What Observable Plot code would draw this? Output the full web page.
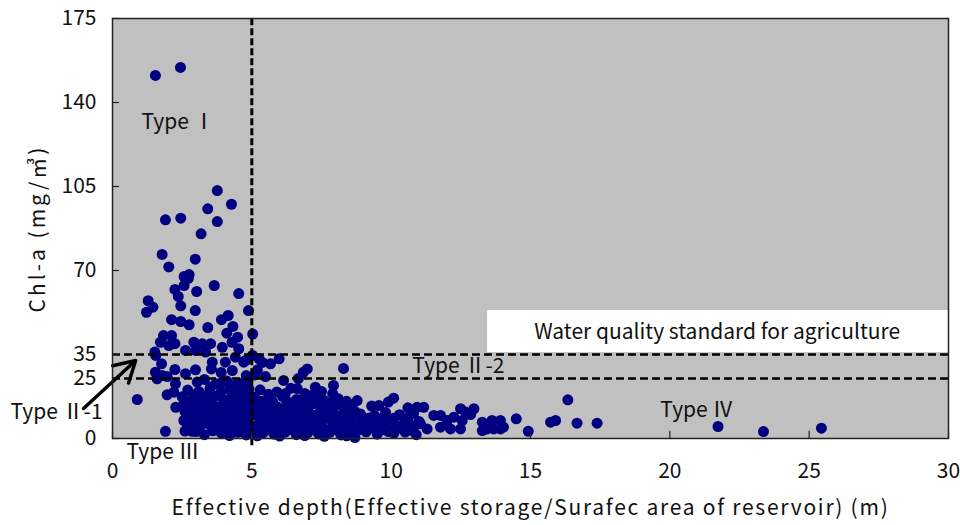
<!DOCTYPE html>
<html>
<head>
<meta charset="utf-8">
<script src="https://cdn.jsdelivr.net/npm/d3@7"></script>
<script src="https://cdn.jsdelivr.net/npm/@observablehq/plot@0.6"></script>
<style>
  body { margin: 0; background: white; }
  g[aria-label="x-axis label"] text { letter-spacing: 1.75px; }
  g[aria-label="y-axis label"] text { letter-spacing: 3px; }
</style>
</head>
<body>
<div id="chart"></div>
<script>
// ---- data: [effective depth (m), Chl-a (mg/m3)] ----
const highPoints = [
  [1.54,151.3],[2.44,154.6],
  [3.76,103.3],[4.27,97.6],[3.42,95.7],[1.90,91.1],[2.45,91.8],[3.76,90.4],[3.18,85.3],
  [1.78,76.7],[2.97,74.7],[2.02,71.5],[2.75,68.3],[2.57,67.5],[2.72,66.7],[2.57,63.75],[2.24,62.1],
  [3.02,61.25],[3.65,63.75],[2.36,59.2],[4.53,60.4],
  [1.28,57.4],[1.45,54.7],[1.22,52.6],[2.45,55.3],[2.97,53.3],[4.88,53.3],
  [2.12,49.5],[2.45,48.75],[2.75,47.4],[3.42,46.25],[3.91,49.5],[4.15,51.25],[4.32,46.7],
  [4.10,43.9],[4.49,42.2],[5.03,43.5],[1.83,42.9],[2.12,42.9],
  [1.72,40.1],[2.02,38.75],[2.24,39.5],[2.92,40.1],[3.22,39.5],[3.52,39.5],[3.94,38.0],[4.29,40.1],[4.53,37.4],
  [1.52,36.0],[2.62,36.7],[2.98,36.7],[3.34,36.0]
];
const shallowLowPoints = [
  [1.55,34.6],[3.58,31.8],[1.76,31.1],[2.24,28.75],[2.98,28.6],[3.55,29.0],[1.54,27.6],[1.78,26.25],
  [1.96,25.8],[2.62,27.0],[4.05,31.8],[4.41,33.9],[4.71,31.8],[4.78,32.5],[1.60,24.9],[2.26,22.8],
  [3.04,23.5],[3.52,21.4],[0.89,16.25],[1.96,18.2],[2.20,19.3],[2.56,14.5],[2.86,16.5],[2.56,7.5],
  [2.80,8.9],[2.98,8.2],[1.90,3.0],[2.86,3.0],[3.58,6.1],[3.34,10.3],[2.27,13.0],[3.9,27.5],[4.3,28.3],[4.8,26.2],
  [3.3,24.6],[3.7,22.8],[4.1,24.0],[4.4,22.3],[4.8,23.6],[3.9,23.2],[4.6,22.9],
  [2.7,20.2],[3.1,19.6],[3.5,20.8],[3.9,19.4],[4.2,20.5],[4.6,19.1],[4.9,20.6],
  [2.9,18.1],[3.4,18.3],[3.8,17.9],[4.5,18.2],[4.9,17.8],
  [2.5,17.4],[3.2,16.6],[3.6,17.8],[4.0,16.2],[4.3,17.5],[4.7,16.4],
  [2.7,15.2],[3.1,14.9],[3.55,15.3],[4.3,15.1],[4.7,15.4],
  [2.9,13.4],[3.3,14.6],[3.8,13.2],[4.1,14.8],[4.5,13.6],[4.85,14.2],
  [2.8,12.1],[3.2,12.3],[3.7,12.0],[4.05,12.4],[4.4,12.2],[4.75,12.5],
  [2.6,11.2],[3.0,10.6],[3.5,11.8],[3.9,10.2],[4.2,11.5],[4.6,10.8],[4.9,11.9],
  [2.9,9.3],[3.4,9.1],[3.9,9.4],[4.2,9.0],[4.6,9.2],[4.95,9.5],
  [3.2,7.6],[3.7,8.7],[4.0,7.2],[4.4,8.4],[4.75,7.5],
  [2.9,6.6],[3.3,6.4],[3.65,6.8],[4.1,6.3],[4.45,6.7],[4.8,6.5],
  [2.7,5.2],[3.1,4.4],[3.5,5.6],[3.8,4.1],[4.3,5.3],[4.6,4.5],[4.9,5.8],
  [2.6,3.1],[3.0,2.9],[3.6,3.2],[4.05,3.4],[4.35,3.0],[4.65,3.3],[4.95,3.1],
  [3.3,1.6],[3.9,2.4],[4.2,1.2],[4.5,2.6],[4.8,1.5]
];
const midPoints = [
  [5.02,34.6],[5.26,33.2],[5.98,33.2],[5.38,31.7],[5.67,31.1],[6.99,29.0],[6.85,27.6],[8.29,29.2],
  [5.49,25.8],[6.14,24.2],[6.67,25.0],[7.28,21.4],[7.93,22.1],[6.63,20.8],[5.2,28.5],[5.1,26.5],
  [5.3,20.3],[5.9,19.4],[6.4,20.9],[6.9,18.8],[7.5,19.6],
  [5.6,18.4],[6.2,18.6],[7.2,18.3],[7.9,18.7],
  [5.1,17.2],[5.6,16.5],[6.1,17.6],[6.6,16.3],[7.1,17.0],[7.6,15.8],[8.1,16.6],
  [5.35,15.5],[5.75,15.3],[6.25,15.6],[6.85,15.4],[7.35,15.7],[7.9,15.2],[8.4,15.5],
  [5.2,13.8],[5.5,14.5],[5.9,13.3],[6.3,14.2],[6.8,13.5],[7.2,14.4],[7.7,13.1],[8.2,13.9],[8.6,12.8],
  [5.35,12.4],[5.7,12.6],[6.1,12.3],[6.6,12.7],[7.0,12.4],[7.5,12.6],[7.9,12.2],[8.4,12.5],
  [5.1,10.6],[5.4,11.4],[5.8,10.3],[6.2,11.6],[6.5,10.8],[7.0,11.2],[7.4,10.4],[7.9,11.5],[8.3,10.6],[8.7,11.3],
  [5.2,9.4],[5.6,9.6],[6.0,9.3],[6.35,9.7],[6.7,9.4],[7.2,9.6],[7.6,9.3],[8.0,9.7],[8.5,9.5],[8.9,9.4],
  [5.3,8.2],[5.7,7.6],[6.0,8.6],[6.4,7.4],[6.9,8.1],[7.3,7.3],[7.7,8.4],[8.1,7.7],[8.5,8.3],
  [5.4,6.5],[5.8,6.3],[6.2,6.7],[6.55,6.4],[7.0,6.6],[7.4,6.3],[7.9,6.6],[8.3,6.4],[8.7,6.6],
  [5.1,5.1],[5.5,4.6],[5.9,5.4],[6.3,4.3],[6.7,5.2],[7.1,4.5],[7.5,5.3],[8.0,4.4],[8.4,5.0],[8.8,4.6],
  [5.3,3.5],[5.7,3.3],[6.1,3.6],[6.5,3.4],[6.9,3.6],[7.3,3.3],[7.7,3.5],[8.1,3.2],[8.6,3.5],
  [5.4,2.4],[5.8,1.8],[6.2,2.7],[6.6,1.6],[7.0,2.3],[7.4,1.9],[7.8,2.6],[8.2,1.5],[8.7,0.4],
  [5.2,1.1],[6.0,1.0],[6.9,1.2],[7.6,0.9],[8.4,1.1]
];
const deepPoints = [
  [8.78,15.8],[9.56,13.75],[10.93,13.0],[9.3,13.5],[9.9,15.2],[10.09,16.8],[10.6,12.8],
  [8.9,10.2],[9.4,9.6],[9.8,10.8],[10.3,9.9],[10.8,10.4],
  [9.2,8.5],[9.7,8.6],[10.1,8.4],[10.6,8.6],
  [9.1,7.2],[9.6,6.8],[10.0,7.5],[10.5,6.6],[11.0,7.1],
  [8.95,5.5],[9.45,5.6],[9.9,5.4],[10.4,5.6],[10.85,5.5],
  [8.9,3.8],[9.3,4.5],[9.7,3.6],[10.2,4.2],[10.7,3.4],[9.5,1.8],[10.1,2.2],[10.9,1.6],
  [9.1,2.8],[9.9,2.9],[10.5,2.7],
  [11.17,13.0],[11.53,9.6],[11.77,9.6],[12.01,7.5],[12.25,8.9],[12.55,7.5],[12.49,4.0],[12.13,4.0],
  [11.77,4.7],[11.29,4.0],[11.05,6.1],[12.67,11.0],[12.49,12.4],[12.97,12.4],[12.85,10.0],
  [13.27,6.8],[13.62,7.5],[13.92,7.5],[13.27,3.3],[13.44,4.0],[13.68,4.0],[13.92,4.0],[14.03,4.7],
  [14.49,8.2],[14.92,3.0],
  [15.72,6.8],[15.9,7.5],[16.34,16.1],[16.67,6.4],[17.39,6.4],[21.73,5.0],[23.36,2.9],[25.44,4.3]
];

const xTicks = [0, 5, 10, 15, 20, 25, 30];
const yTicks = [0, 25, 35, 70, 105, 140, 175];
const depthLimit = [5];
const chlLimits = [35, 25];
const typeLabels = ["Type Ⅰ", "Type Ⅱ-2", "Type Ⅱ-1", "Type Ⅲ", "Type Ⅳ"];
const typeLabelX = [1.04, 10.76, -3.66, 0.5, 19.66];
const typeLabelY = [131.7, 30, 10.8, -5.8, 11.7];
const standardText = "Water quality standard for agriculture";
const standardBox = {x1: 13.46, x2: 30, y1: 35.8, y2: 53.3, tx: 21.7, ty: 44.4};
const arrowFrom = [-1.04, 12.5];
const arrowTo = [0.83, 32.5];

const points = [...highPoints, ...shallowLowPoints, ...midPoints, ...deepPoints]
  .map(([d, c]) => ({depth: d, chla: c}));
const labels = typeLabels.map((t, i) => ({t, x: typeLabelX[i], y: typeLabelY[i]}));

const font = "'Noto Sans CJK KR', 'Noto Sans', sans-serif";

const chart = Plot.plot({
  width: 960,
  height: 525,
  marginLeft: 112,
  marginRight: 12,
  marginTop: 18,
  marginBottom: 87,
  x: {domain: [0, 30]},
  y: {domain: [0, 175]},
  style: {fontFamily: font, fontSize: "20px", background: "white", color: "#111"},
  marks: [
    Plot.frame({fill: "#c0c0c0"}),
    Plot.rect([standardBox], {x1: "x1", x2: "x2", y1: "y1", y2: "y2", fill: "white"}),
    Plot.text([standardBox], {x: "tx", y: "ty", text: () => standardText, fontSize: 21, fill: "#111"}),
    Plot.dot(points, {x: "depth", y: "chla", r: 5.5, fill: "#000080"}),
    Plot.ruleY(chlLimits, {x1: 0, x2: 30, stroke: "black", strokeWidth: 2.6, strokeDasharray: "8,4"}),
    Plot.ruleX(depthLimit, {y1: -3, y2: 175, stroke: "black", strokeWidth: 3, strokeDasharray: "7,3"}),
    Plot.ruleY(yTicks, {x1: 0, x2: 0.25, stroke: "#222", strokeWidth: 1.2}),
    Plot.ruleX(xTicks, {y1: 0, y2: 3, stroke: "#222", strokeWidth: 1.2}),
    Plot.text(labels, {x: "x", y: "y", text: "t", textAnchor: "start", fontSize: 21, fill: "#111"}),
    Plot.arrow([{x1: arrowFrom[0], y1: arrowFrom[1], x2: arrowTo[0], y2: arrowTo[1]}],
      {x1: "x1", y1: "y1", x2: "x2", y2: "y2", stroke: "black", strokeWidth: 3.5, headLength: 14, clip: false}),
    Plot.frame({stroke: "#222", strokeWidth: 1.5}),
    Plot.axisY({ticks: yTicks, tickSize: 0, tickPadding: 16, label: "Chl-a (mg/㎥)",
      labelAnchor: "center", labelArrow: "none", labelOffset: 82, fontSize: 21}),
    Plot.axisX({ticks: xTicks, tickSize: 0, tickPadding: 25, label: "Effective depth(Effective storage/Surafec area of reservoir) (m)",
      labelAnchor: "center", labelArrow: "none", labelOffset: 76, fontSize: 21})
  ]
});
document.getElementById("chart").appendChild(chart);
</script>
</body>
</html>
